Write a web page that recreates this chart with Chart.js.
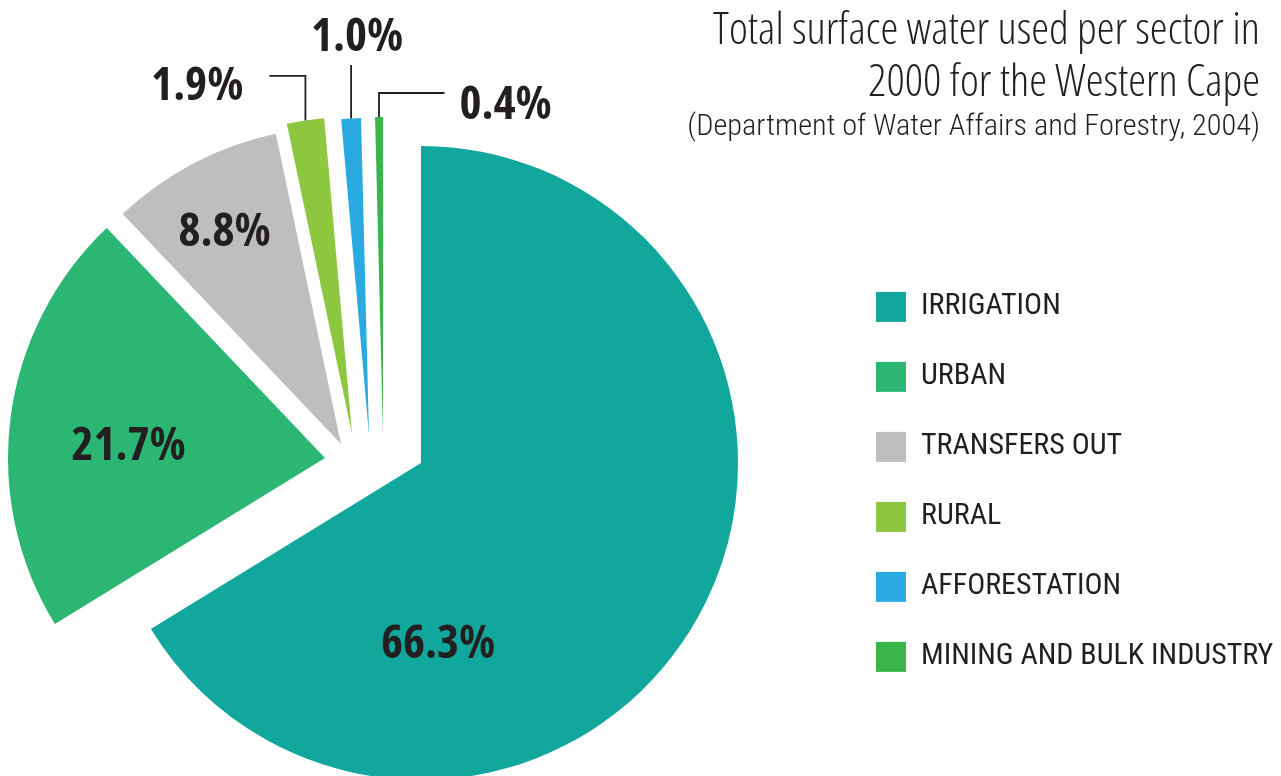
<!DOCTYPE html>
<html>
<head>
<meta charset="utf-8">
<title>Surface water per sector, Western Cape 2000</title>
<script src="https://cdn.jsdelivr.net/npm/chart.js@4.4.1/dist/chart.umd.min.js"></script>
<style>
  html, body { margin: 0; padding: 0; background: #fff; }
  #wrap { width: 1281px; height: 776px; position: relative; }
</style>
</head>
<body>
<div id="wrap"><canvas id="chart"></canvas></div>
<script>
// data
const sectors = ['IRRIGATION', 'URBAN', 'TRANSFERS OUT', 'RURAL', 'AFFORESTATION', 'MINING AND BULK INDUSTRY'];
const shares = [66.3, 21.7, 8.8, 1.9, 1.0, 0.4];
const titleLines = ['Total surface water used per sector in', '2000 for the Western Cape'];
const sourceLine = '(Department of Water Affairs and Forestry, 2004)';

const colours = ['#12a79d', '#2cb673', '#bcbec0', '#8dc63f', '#29abe2', '#39b54a'];
const ink = '#231f20';
const face = '"Open Sans", "DejaVu Sans Condensed", sans-serif';
const faceNarrow = 'Roboto, "DejaVu Sans Condensed", sans-serif';

// how far each slice is pulled away from the pie (x, y in px)
const pull = [[0, 0], [-96, -5], [-80, -19], [-69, -29], [-52, -28], [-38, -29]];

// label placement: inside labels sit at an angle (deg, clockwise from 12 o'clock) and distance
// from the slice tip; outside labels get a leader going up (rise) then sideways (run)
const labelSpots = [
  { angle: 174.5, dist: 179 },
  { angle: 274.4, dist: 197 },
  { angle: 331.5, dist: 244 },
  { rise: 44.5, run: -36, align: 'right', tx: -26, ty: 7.5 },
  { rise: 53.5, run: 0, align: 'center', tx: 6, ty: -31 },
  { rise: 24, run: 65.5, align: 'left', tx: 15, ty: 9.5 }
];
const labelSize = 47;

Chart.defaults.font.family = face;
Chart.defaults.color = ink;

// move the exploded slices after the controller has placed them
const pullOut = {
  id: 'pullOut',
  afterDatasetUpdate(chart, args) {
    args.meta.data.forEach((arc, i) => {
      arc.x += pull[i][0];
      arc.y += pull[i][1];
    });
  }
};

// let the legend text run up to the canvas edge (the title keeps the right margin)
const legendRoom = {
  id: 'legendRoom',
  afterLayout(chart) {
    const lg = chart.legend;
    if (!lg) return;
    lg.right = chart.width;
    lg.width = lg.right - lg.left;
  }
};

// percentage labels and leader lines
const sliceLabels = {
  id: 'sliceLabels',
  afterDatasetsDraw(chart) {
    const ctx = chart.ctx;
    const arcs = chart.getDatasetMeta(0).data;
    ctx.save();
    ctx.fillStyle = ink;
    ctx.strokeStyle = ink;
    ctx.lineWidth = 1.8;
    ctx.font = 'condensed bold ' + labelSize + 'px ' + face;
    ctx.textBaseline = 'alphabetic';
    const capHalf = labelSize * 0.357;

    arcs.forEach((arc, i) => {
      const p = arc.getProps(['x', 'y', 'startAngle', 'endAngle', 'outerRadius'], true);
      const spot = labelSpots[i];
      const text = shares[i].toFixed(1) + '%';

      if (spot.angle !== undefined) {
        const a = (spot.angle - 90) * Math.PI / 180;
        ctx.textAlign = 'center';
        ctx.fillText(text, p.x + Math.cos(a) * spot.dist, p.y + Math.sin(a) * spot.dist + capHalf);
        return;
      }

      const mid = (p.startAngle + p.endAngle) / 2;
      const ax = p.x + Math.cos(mid) * p.outerRadius;
      const ay = p.y + Math.sin(mid) * p.outerRadius;
      const ex = ax + spot.run;
      const ey = ay - spot.rise;

      ctx.beginPath();
      ctx.moveTo(ax, ay);
      ctx.lineTo(ax, ey);
      if (spot.run !== 0) ctx.lineTo(ex, ey);
      ctx.stroke();

      ctx.textAlign = spot.align;
      ctx.fillText(text, ex + spot.tx, ey + spot.ty + capHalf);
    });
    ctx.restore();
  }
};

const ctx = document.getElementById('chart').getContext('2d');

new Chart(ctx, {
  type: 'pie',
  data: {
    labels: sectors,
    datasets: [{
      data: shares,
      backgroundColor: colours,
      borderWidth: 0,
      radius: 317
    }]
  },
  options: {
    responsive: true,
    maintainAspectRatio: false,
    animation: false,
    events: [],
    layout: {
      padding: { left: 6, right: 21, top: 0, bottom: 0 }
    },
    plugins: {
      title: {
        display: true,
        text: titleLines,
        align: 'end',
        color: ink,
        font: { family: face, size: 45, weight: 'condensed 300', lineHeight: 1.156 },
        padding: { top: 5.6, bottom: 0 }
      },
      subtitle: {
        display: true,
        text: sourceLine,
        align: 'end',
        color: ink,
        font: { family: faceNarrow, size: 30.3, weight: 'condensed 300', lineHeight: 1.16 },
        padding: { top: 0.3, bottom: 4.9 }
      },
      legend: {
        position: 'right',
        fullSize: false,
        maxWidth: 424,
        title: {
          display: true,
          text: '',
          font: { size: 28, lineHeight: 1.35 },
          padding: 0
        },
        labels: {
          boxWidth: 30,
          boxHeight: 30,
          padding: 40,
          color: ink,
          font: { family: faceNarrow, size: 30, weight: 'condensed normal' }
        }
      },
      tooltip: { enabled: false }
    }
  },
  plugins: [pullOut, legendRoom, sliceLabels]
});
</script>
</body>
</html>
